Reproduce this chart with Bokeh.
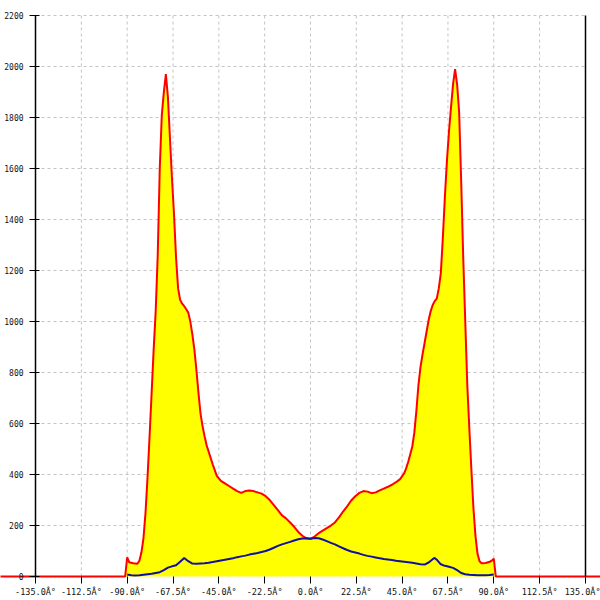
from bokeh.plotting import figure
from bokeh.models import Range1d, LinearAxis, FixedTicker, PrintfTickFormatter, ColumnDataSource
from bokeh.embed import file_html
from bokeh.resources import INLINE

# ---- data ----
x_ticks = [-135.0, -112.5, -90.0, -67.5, -45.0, -22.5, 0.0, 22.5, 45.0, 67.5, 90.0, 112.5, 135.0]
y_ticks = [0, 200, 400, 600, 800, 1000, 1200, 1400, 1600, 1800, 2000, 2200]

red_angle = [-180, -91, -90, -89, -87, -85, -84, -83, -82, -81, -80, -79, -78, -77, -76, -75,
             -74, -73, -72, -71, -70, -69, -68, -67, -66, -65, -64, -63, -62, -61, -60,
             -59, -58, -57, -56, -55, -54, -53, -52, -51, -50, -48, -46, -44, -42, -40,
             -38, -36, -34, -32, -30, -28, -26, -24, -22, -20, -18, -16, -14, -12, -10,
             -8, -6, -4, -2, 0, 2, 4, 6, 8, 10, 12, 14, 16, 18, 20, 22, 24, 26, 28, 30,
             32, 34, 36, 38, 40, 42, 44, 46, 47, 48, 49, 50, 51, 52, 53, 54, 55, 56, 57,
             58, 59, 60, 61, 62, 63, 64, 65, 66, 67, 68, 69, 70, 71, 72, 73, 74, 75, 76,
             77, 78, 79, 80, 81, 82, 83, 84, 86, 88, 89, 90, 91, 180]
red_count = [0, 0, 75, 56, 52, 50, 62, 95, 150, 250, 390, 550, 720, 890, 1040, 1260,
             1600, 1810, 1900, 1970, 1880, 1720, 1560, 1420, 1250, 1130, 1085, 1070, 1060, 1048, 1035,
             1000, 950, 890, 810, 720, 640, 590, 550, 515, 490, 440, 395, 375, 365, 355,
             345, 335, 328, 335, 337, 335, 330, 325, 315, 300, 280, 260, 240, 228, 212,
             195, 175, 160, 150, 148, 157, 170, 180, 190, 200, 212, 232, 255, 275, 298, 315, 328, 335, 333, 327,
             330, 338, 345, 352, 360, 370, 382, 405, 425, 450, 480, 510, 565, 650, 750, 820, 870, 915, 960,
             1005, 1040, 1065, 1080, 1090, 1130, 1190, 1330, 1490, 1630, 1745, 1840, 1930, 1990, 1930, 1820, 1550, 1250, 1000,
             750, 580, 420, 270, 160, 90, 60, 52, 53, 58, 62, 70, 0, 0]

blue_angle = [-90, -88, -86, -84, -82, -80, -78, -76, -74, -72, -70, -68, -66, -64, -62, -60,
              -58, -56, -54, -52, -50, -48, -46, -44, -42, -40, -38, -36, -34, -32, -30,
              -28, -26, -24, -22, -20, -18, -16, -14, -12, -10, -8, -6, -4, -2, 0, 2, 4,
              6, 8, 10, 12, 14, 16, 18, 20, 22, 24, 26, 28, 30, 32, 34, 36, 38, 40, 42, 44,
              46, 48, 50, 52, 54, 56, 58, 60, 61, 62, 64, 66, 68, 70, 72, 74, 76, 78, 80,
              82, 84, 86, 88, 90]
blue_count = [8, 5, 4, 5, 7, 9, 11, 14, 17, 25, 35, 40, 44, 58, 73, 60,
              51, 50, 51, 52, 54, 57, 60, 63, 66, 69, 72, 76, 79, 82, 86,
              89, 92, 96, 100, 106, 113, 120, 126, 131, 136, 141, 146, 149, 150, 148, 151, 150,
              145, 139, 132, 126, 118, 111, 104, 98, 94, 90, 85, 81, 78, 75, 72, 69, 67, 65, 62, 60,
              58, 56, 54, 51, 48, 47, 55, 68, 73, 66, 48, 42, 38, 34, 25, 14, 9, 7, 6,
              5, 5, 5, 6, 8]

x_min, x_max = x_ticks[0], x_ticks[-1]
y_min, y_max = y_ticks[0], y_ticks[-1]

p = figure(width=600, height=600, x_range=Range1d(-152.2, 142.4), y_range=Range1d(-94, 2259),
           x_axis_type=None, y_axis_type=None, toolbar_location=None, output_backend="svg",
           min_border=0)
p.outline_line_color = None
p.background_fill_color = "white"

# grid lines (bounded to the axis extents)
inner_x = x_ticks[1:-1]
p.segment(x0=inner_x, y0=[y_min] * len(inner_x), x1=inner_x, y1=[y_max] * len(inner_x),
          line_color="#c4c4c4", line_dash="3 3", line_width=1)
inner_y = y_ticks[1:]
p.segment(x0=[x_min] * len(inner_y), y0=inner_y, x1=[x_max] * len(inner_y), y1=inner_y,
          line_color="#c4c4c4", line_dash="3 3", line_width=1)

src_r = ColumnDataSource(dict(x=red_angle, y=red_count, z=[0] * len(red_angle)))
p.varea(x="x", y1="z", y2="y", source=src_r, fill_color="#ffff00")
p.line(x="x", y="y", source=src_r, line_color="#ff0000", line_width=2)
p.line(x=blue_angle, y=blue_count, line_color="#10109c", line_width=2)

label_font = "DejaVu Sans Mono"

xa = LinearAxis(fixed_location=0, bounds=(x_min, x_max), ticker=FixedTicker(ticks=x_ticks),
                formatter=PrintfTickFormatter(format="%.1fÂ°"))
xa.axis_line_color = None
xa.major_tick_in = 0
xa.major_tick_out = 7
xa.major_tick_line_color = "black"
xa.minor_tick_line_color = None
xa.major_label_standoff = 3
xa.major_label_text_font = label_font
xa.major_label_text_font_size = "8.5px"
xa.major_label_text_color = "#111111"
p.add_layout(xa, "below")

ya = LinearAxis(fixed_location=x_min, bounds=(y_min, y_max), ticker=FixedTicker(ticks=y_ticks),
                formatter=PrintfTickFormatter(format="%d"))
ya.axis_line_color = "black"
ya.axis_line_width = 1.5
ya.major_tick_in = 4
ya.major_tick_out = 6
ya.major_tick_line_color = "black"
ya.minor_tick_line_color = None
ya.major_label_standoff = 6
ya.major_label_text_font = label_font
ya.major_label_text_font_size = "8px"
ya.major_label_text_color = "#111111"
p.add_layout(ya, "left")

ra = LinearAxis(fixed_location=x_max, bounds=(y_min, y_max), ticker=FixedTicker(ticks=[]))
ra.axis_line_color = "black"
ra.axis_line_width = 1.5
ra.major_tick_line_color = None
ra.minor_tick_line_color = None
p.add_layout(ra, "right")

open("out.html", "w").write(file_html(p, INLINE))
